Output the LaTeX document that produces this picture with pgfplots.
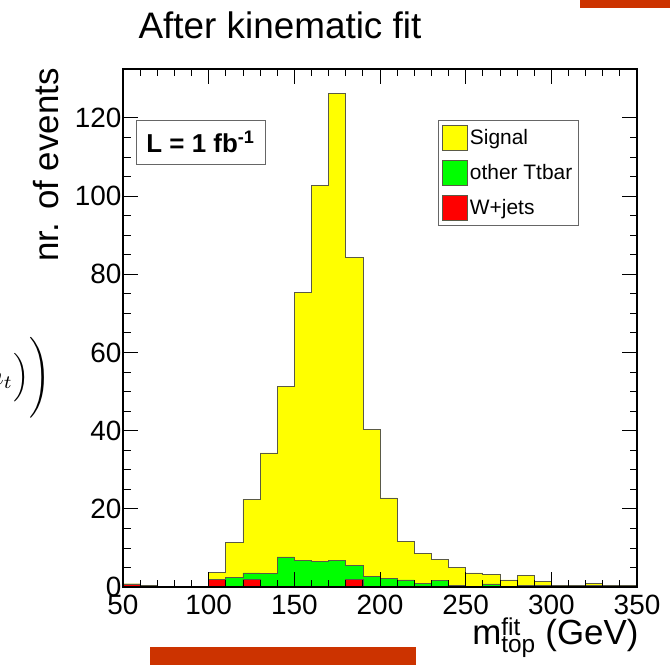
\documentclass[border=0pt]{standalone}
\usepackage{fontspec}
\setmainfont{Liberation Sans}
\usepackage{pgfplots}
\pgfplotsset{compat=1.18}
\usepackage{pgfplotstable}
\definecolor{hyellow}{RGB}{255,255,0}
\definecolor{hgreen}{RGB}{0,255,0}
\definecolor{hred}{RGB}{255,0,0}
\definecolor{hline}{RGB}{90,90,70}
\definecolor{slideorange}{RGB}{204,51,0}

\pgfplotstableread{
x wjets ttbar signal
50 0.8 0 0
60 0.3 0 0
70 0 0 0
80 0 0 0
90 0 0 0
100 2.0 0 1.8
110 0 2.5 8.9
120 2.0 1.6 18.9
130 0 3.4 30.9
140 0 7.7 43.5
150 0 6.8 68.5
160 0 6.5 96.3
170 0 6.7 119.6
180 2.0 3.6 78.6
190 0 2.6 37.6
200 0 2.2 20.6
210 0 1.8 9.8
220 0 0.9 7.7
230 0 1.6 5.5
240 0 0.3 4.7
250 0 0.2 3.4
260 0 0.8 2.5
270 0 0 1.8
280 0 0.5 2.5
290 0 0.5 0.9
300 0 0.5 0
310 0 0 0.3
320 0 0.3 0.7
330 0 0.3 0.1
340 0 0 0.3
350 0 0 0.3
}\histdata

\begin{document}
\begin{tikzpicture}[x=1bp,y=1bp]
\useasboundingbox (-123,-78) rectangle (547,587);
\begin{axis}[
  scale only axis, width=514bp, height=518bp,
  xmin=50, xmax=350, ymin=0, ymax=132.5,
  xtick={50,100,...,350}, minor x tick num=4,
  ytick={0,20,...,120}, minor y tick num=3,
  tick align=inside,
  major tick length=15bp, minor tick length=7.5bp,
  axis line style={line width=1.3pt},
  every tick/.style={black, line width=0.8pt},
  tick label style={font=\fontsize{28}{30}\selectfont},
  /pgf/number format/assume math mode=true,
  xticklabel style={yshift=-5bp},
  yticklabel style={xshift=2bp},
  stack plots=y,
  const plot,
  axis on top,
  legend style={
    at={(rel axis cs:0.613,0.9015)}, anchor=north west,
    draw=black!60, line width=0.6pt,
    font=\fontsize{21}{23}\selectfont,
    inner xsep=4bp, inner ysep=5bp,
    row sep=9bp,
    cells={anchor=west},
  },
  legend cell align=left,
  reverse legend,
  legend image code/.code={\draw[#1, line width=0.6pt] (0bp,-12.5bp) rectangle (25bp,12.5bp);},
]
\addplot[fill=hred, draw=hline, line width=0.7pt] table[x=x, y=wjets] {\histdata} \closedcycle;
\addlegendentry{W+jets}
\addplot[fill=hgreen, draw=hline, line width=0.7pt] table[x=x, y=ttbar] {\histdata} \closedcycle;
\addlegendentry{other Ttbar}
\addplot[fill=hyellow, draw=hline, line width=0.7pt] table[x=x, y=signal] {\histdata} \closedcycle;
\addlegendentry{Signal}
\end{axis}
% L box
\node[draw=black!60, line width=0.6pt, minimum width=129bp, minimum height=44bp, inner sep=0pt,
  font=\fontsize{26}{28}\selectfont\bfseries] at (77.5,445) {L = 1 fb\textsuperscript{-1}};
% title and axis labels
\node[font=\fontsize{37}{39}\selectfont] at (157,562) {After kinematic fit};
\node[rotate=90, font=\fontsize{35}{37}\selectfont] at (-77,422) {nr. of events};
\node[anchor=base east, font=\fontsize{35}{37}\selectfont] at (519,-57) {m$^{\mathrm{fit}}_{\mathrm{top}}$ (GeV)};
% slide fragments
\fill[slideorange] (457,579) rectangle (547,587);
\fill[slideorange] (27,-78) rectangle (293,-60);
\node[anchor=east, scale=2.7] at (-63,209) {$n_t\Bigr)\Biggr)$};
\end{tikzpicture}
\end{document}
